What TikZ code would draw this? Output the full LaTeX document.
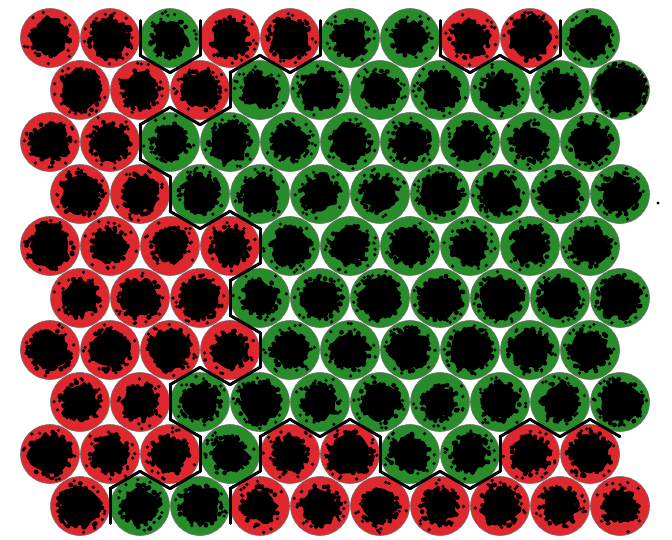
\documentclass[tikz,border=0pt]{standalone}
\definecolor{somred}{RGB}{222,40,46}
\definecolor{somgreen}{RGB}{40,140,42}
\tikzset{
  cell/.style={circle, minimum size=59pt, inner sep=0pt, draw=black!55, line width=0.6pt},
  bnd/.style={black, line width=3pt, line cap=round},
}
\def\cells{{1,1,0,1,1,0,0,1,1,0,
 1,1,1,0,0,0,0,0,0,0,
 1,1,0,0,0,0,0,0,0,0,
 1,1,0,0,0,0,0,0,0,0,
 1,1,1,1,0,0,0,0,0,0,
 1,1,1,0,0,0,0,0,0,0,
 1,1,1,1,0,0,0,0,0,0,
 1,1,0,0,0,0,0,0,0,0,
 1,1,1,0,1,1,0,0,1,1,
 1,0,0,1,1,1,1,1,1,1}}
\begin{document}
\begin{tikzpicture}[x=1pt,y=-1pt]
\useasboundingbox (0,0) rectangle (672,539);
\pgfmathsetseed{4242}
% cells
\foreach \r in {0,...,9}{
 \foreach \c in {0,...,9}{
  \pgfmathtruncatemacro\v{\cells[\r*10+\c]}
  \pgfmathsetmacro\x{50+60*\c+30*mod(\r,2)}
  \pgfmathsetmacro\y{38+52*\r}
  \ifnum\v=1 \def\col{somred}\else\def\col{somgreen}\fi
  \node[cell, fill=\col] (n\r-\c) at (\x,\y) {};
  \pgfmathsetmacro\base{17+5*rnd}
  \ifnum\r=1 \ifnum\c=9 \def\base{25}\fi\fi
  \begin{scope}[shift={(\x,\y)}]
   \fill[black] plot[smooth cycle, variable=\t, domain=0:345, samples=24] (\t:{\base-4+6*rnd});
   \foreach \k in {1,...,30}{
     \pgfmathsetmacro\a{360*rnd}
     \pgfmathsetmacro\d{\base-3+5*rnd}
     \fill[black] (\a:\d) circle (2.4);
   }
   \foreach \k in {1,...,14}{
     \pgfmathsetmacro\a{360*rnd}
     \pgfmathsetmacro\d{\base+1+(26-\base)*rnd}
     \fill[black] (\a:\d) circle (1.8);
   }
  \end{scope}
 }
}
% stray dot
\fill[black] (658,203) circle (1.6);
% cluster boundaries
\foreach \r in {0,...,9}{
 \foreach \c in {0,...,9}{
  \pgfmathtruncatemacro\v{\cells[\r*10+\c]}
  \pgfmathsetmacro\x{50+60*\c+30*mod(\r,2)}
  \pgfmathsetmacro\y{38+52*\r}
  \ifnum\c<9
    \pgfmathtruncatemacro\w{\cells[\r*10+\c+1]}
    \ifnum\v=\w\else \draw[bnd] (\x+30,\y-17.32) -- (\x+30,\y+17.32);\fi
  \fi
  \ifnum\r<9
    \pgfmathtruncatemacro\isodd{mod(\r,2)}
    \pgfmathtruncatemacro\bl{\c-1+\isodd}
    \pgfmathtruncatemacro\br{\c+\isodd}
    \ifnum\bl>-1 \ifnum\bl<10
      \pgfmathtruncatemacro\w{\cells[(\r+1)*10+\bl]}
      \ifnum\v=\w\else \draw[bnd] (\x-30,\y+17.32) -- (\x,\y+34.64);\fi
    \fi\fi
    \ifnum\br<10
      \pgfmathtruncatemacro\w{\cells[(\r+1)*10+\br]}
      \ifnum\v=\w\else \draw[bnd] (\x,\y+34.64) -- (\x+30,\y+17.32);\fi
    \fi
  \fi
 }
}
\end{tikzpicture}
\end{document}
